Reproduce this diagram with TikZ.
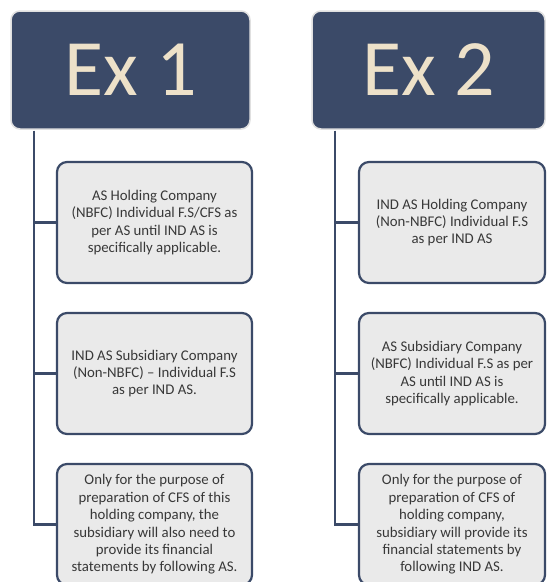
\documentclass[tikz,border=0pt]{standalone}
\usepackage{fontspec}
\setmainfont{Carlito}
\definecolor{navy}{HTML}{3B4A68}
\definecolor{cream}{HTML}{EDE1C9}
\definecolor{boxgray}{HTML}{EAEAEA}
\definecolor{rimgray}{HTML}{E0E0E0}
\begin{document}
\begin{tikzpicture}[x=1pt,y=-1pt,
  header/.style={draw=rimgray, line width=1.5pt, fill=navy, rounded corners=9pt,
    text=cream, font=\fontsize{80}{90}\selectfont, inner sep=0pt,
    minimum height=118pt},
  infobox/.style={draw=navy, line width=2.2pt, fill=boxgray, rounded corners=10pt,
    text=black!78, font=\fontsize{14.8}{17.4}\selectfont, align=center, inner sep=0pt,
    minimum height=121pt},
  link/.style={draw=navy, line width=2.6pt}]
\useasboundingbox (0,0) rectangle (547,582);
\clip (0,0) rectangle (547,582);
\fill[white] (0,0) rectangle (547,582);

% Ex 1
\node[header, minimum width=239pt] (h1) at (130.5,70) {Ex 1};
\node[infobox, minimum width=195pt] (a1) at (154.5,222.5)
  {AS Holding Company\\(NBFC) Individual F.S/CFS as\\per AS until IND AS is\\specifically applicable.};
\node[infobox, minimum width=195pt] (a2) at (154.5,373.5)
  {IND AS Subsidiary Company\\(Non-NBFC) -- Individual F.S\\as per IND AS.};
\node[infobox, minimum width=195pt] (a3) at (154.5,524.5)
  {Only for the purpose of\\preparation of CFS of this\\holding company, the\\subsidiary will also need to\\provide its financial\\statements by following AS.};
\coordinate (v1) at (34,130.5);
\draw[link] (v1) |- (a3.west);
\draw[link] (v1 |- a1.west) -- (a1.west);
\draw[link] (v1 |- a2.west) -- (a2.west);

% Ex 2
\node[header, minimum width=233pt] (h2) at (428.5,70) {Ex 2};
\node[infobox, minimum width=186pt] (b1) at (452,222.5)
  {IND AS Holding Company\\(Non-NBFC) Individual F.S\\as per IND AS};
\node[infobox, minimum width=186pt] (b2) at (452,373.5)
  {AS Subsidiary Company\\(NBFC) Individual F.S as per\\AS until IND AS is\\specifically applicable.};
\node[infobox, minimum width=186pt] (b3) at (452,524.5)
  {Only for the purpose of\\preparation of CFS of\\holding company,\\subsidiary will provide its\\financial statements by\\following IND AS.};
\coordinate (v2) at (335,130.5);
\draw[link] (v2) |- (b3.west);
\draw[link] (v2 |- b1.west) -- (b1.west);
\draw[link] (v2 |- b2.west) -- (b2.west);
\end{tikzpicture}
\end{document}
